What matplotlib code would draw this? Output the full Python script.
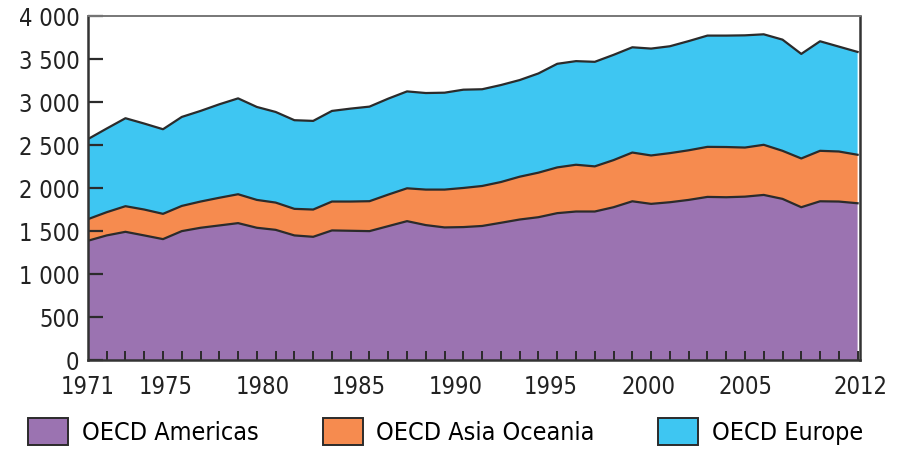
import numpy as np
import matplotlib
matplotlib.use("Agg")
import matplotlib.pyplot as plt
from matplotlib.patches import Patch
from matplotlib.ticker import FuncFormatter, MultipleLocator

# narrow face, closest to the original's condensed geometric font
plt.rcParams['font.family'] = ['DejaVu Sans']
plt.rcParams['font.stretch'] = 'condensed'

# data
years = np.arange(1971, 2013)
americas = [1388, 1450, 1492, 1450, 1407, 1500, 1539, 1566, 1593, 1539,
            1515, 1450, 1434, 1508, 1504, 1500, 1558, 1616, 1570, 1543,
            1547, 1560, 1597, 1635, 1662, 1709, 1728, 1728, 1778, 1847,
            1817, 1836, 1863, 1898, 1894, 1901, 1921, 1875, 1778, 1847,
            1844, 1824]
asia_oceania = [251, 270, 298, 301, 294, 293, 305, 322, 336, 324,
                317, 309, 317, 336, 340, 348, 367, 382, 413, 440,
                455, 465, 474, 498, 518, 532, 544, 525, 548, 567,
                563, 571, 577, 582, 584, 571, 583, 559, 567, 587,
                582, 564]
europe = [931, 973, 1023, 1000, 984, 1035, 1054, 1087, 1115, 1081,
          1054, 1031, 1031, 1054, 1081, 1100, 1116, 1127, 1123, 1127,
          1143, 1125, 1128, 1124, 1154, 1205, 1205, 1216, 1224, 1224,
          1243, 1243, 1270, 1294, 1296, 1305, 1285, 1293, 1216, 1274,
          1220, 1196]
series_names = ['OECD Americas', 'OECD Asia Oceania', 'OECD Europe']
colors = ['#9B73B1', '#F68B4F', '#3EC6F2']

# year-label text positions (labels in the original drift from the year ticks)
label_text = ['1971', '1975', '1980', '1985', '1990', '1995', '2000', '2005', '2012']
label_pos = [1971.0, 1975.13, 1980.29, 1985.44, 1990.58, 1995.63, 2000.85, 2006.03, 2012.14]

fig = plt.figure(figsize=(8.97, 4.49), dpi=100)
ax = fig.add_axes([0.098, 0.198, 0.861, 0.766])

data = np.vstack([americas, asia_oceania, europe])
ax.stackplot(years, data, colors=colors, linewidth=0)
tops = np.cumsum(data, axis=0)
for t in tops:
    ax.plot(years, t, color='#2b2b2b', lw=1.6, solid_joinstyle='round')

ax.set_xlim(1971, 2012)
ax.set_ylim(0, 4000)

ax.yaxis.set_major_locator(MultipleLocator(500))
ax.yaxis.set_major_formatter(FuncFormatter(lambda v, p: f"{int(v):,}".replace(",", " ")))
ax.tick_params(axis='y', direction='in', length=11, width=1.6, color='#2b2b2b',
               labelsize=17, pad=6, labelcolor='#222222')

ax.xaxis.set_minor_locator(MultipleLocator(1))
ax.set_xticks(label_pos)
ax.set_xticklabels(label_text)
ax.tick_params(axis='x', which='major', length=0, labelsize=17, pad=11, labelcolor='#222222')
ax.tick_params(axis='x', which='minor', direction='in', length=6.5, width=1.4, color='#2b2b2b')

for side in ['left', 'bottom', 'right']:
    ax.spines[side].set_color('#333333')
    ax.spines[side].set_linewidth(1.8)
ax.spines['top'].set_color('#777777')
ax.spines['top'].set_linewidth(1.4)
for s in ax.spines.values():
    s.set_zorder(5)

handles = [Patch(facecolor=c, edgecolor='#2b2b2b', linewidth=1.4) for c in colors]
fig.legend(handles, series_names, loc='lower left', bbox_to_anchor=(0.012, -0.03),
           ncol=3, frameon=False, fontsize=18, handlelength=1.6, handleheight=1.3,
           handletextpad=0.55, columnspacing=2.55, borderaxespad=0.3)

fig.savefig('out.png', dpi=100)
